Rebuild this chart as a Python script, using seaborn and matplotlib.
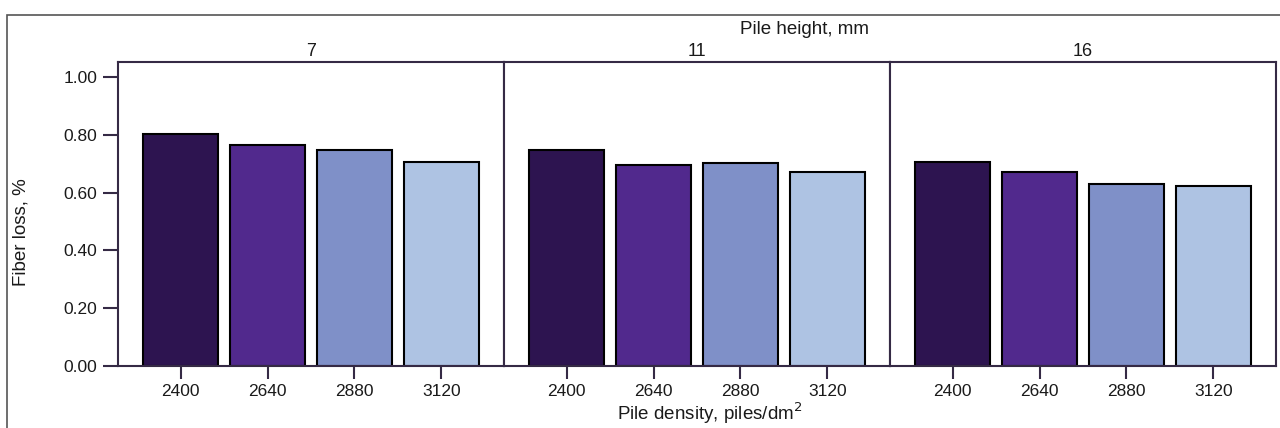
import matplotlib
matplotlib.use("Agg")
import matplotlib.pyplot as plt
import seaborn as sns
import pandas as pd
from matplotlib.patches import Rectangle

heights = ["7", "11", "16"]
densities = ["2400", "2640", "2880", "3120"]
loss_7 = [0.803, 0.765, 0.748, 0.706]
loss_11 = [0.748, 0.695, 0.704, 0.672]
loss_16 = [0.706, 0.672, 0.630, 0.623]
colors = ["#2d1450", "#51298d", "#7f90c8", "#aec3e3"]

rows = []
for h, vals in zip(heights, [loss_7, loss_11, loss_16]):
    for d, v in zip(densities, vals):
        rows.append({"height": h, "density": d, "loss": v})
df = pd.DataFrame(rows)

sns.set_theme(style="white")
plt.rcParams["font.family"] = ["Liberation Sans", "DejaVu Sans"]

fig = plt.figure(figsize=(12.8, 4.28), dpi=100)
left, right, top, bottom = 118/1280, 1276/1280, 1-62/428, 1-366/428
w = (right-left)/3
frame_col = "#352a45"
txt_col = "#1a1a1a"
axes = []
for i, h in enumerate(heights):
    ax = fig.add_axes([left + i*w, bottom, w, top-bottom])
    sub = df[df["height"] == h]
    sns.barplot(data=sub, x="density", y="loss", hue="density", order=densities,
                hue_order=densities, palette=colors, legend=False, width=0.87,
                edgecolor="black", linewidth=1.5, ax=ax, dodge=False, saturation=1)
    ax.set_xlim(-0.72, 3.72)
    ax.set_ylim(0, 1.052)
    ax.set_xlabel("")
    ax.set_ylabel("")
    for s in ax.spines.values():
        s.set_color(frame_col)
        s.set_linewidth(1.5)
        s.set_visible(True)
    ax.tick_params(axis="x", bottom=True, length=9, width=1.5, color=frame_col,
                   labelsize=12.5, pad=4, labelcolor=txt_col)
    ax.set_title(h, fontsize=13, pad=4, color=txt_col)
    ax.set_yticks([0, 0.2, 0.4, 0.6, 0.8, 1.0])
    if i == 0:
        ax.set_yticklabels(["0.00", "0.20", "0.40", "0.60", "0.80", "1.00"])
        ax.tick_params(axis="y", left=True, length=11, width=1.5, color=frame_col,
                       labelsize=12.5, pad=4, labelcolor=txt_col)
    else:
        ax.tick_params(axis="y", left=False, labelleft=False)
    axes.append(ax)

fig.text(804/1280, 1-29/428, "Pile height, mm", ha="center", va="center",
         fontsize=13.5, color=txt_col)
fig.text(710/1280, 1-413/428, "Pile density, piles/dm$^2$", ha="center", va="center",
         fontsize=13.5, color=txt_col)
fig.text(21/1280, 1-232/428, "Fiber loss, %", ha="center", va="center",
         rotation=90, fontsize=13.5, color=txt_col)

fig.patches.append(Rectangle((7/1280, -0.05), 1.1, 1-15/428+0.05, transform=fig.transFigure,
                             fill=False, edgecolor="#555555", linewidth=1.2))

fig.savefig("out.png", dpi=100)
